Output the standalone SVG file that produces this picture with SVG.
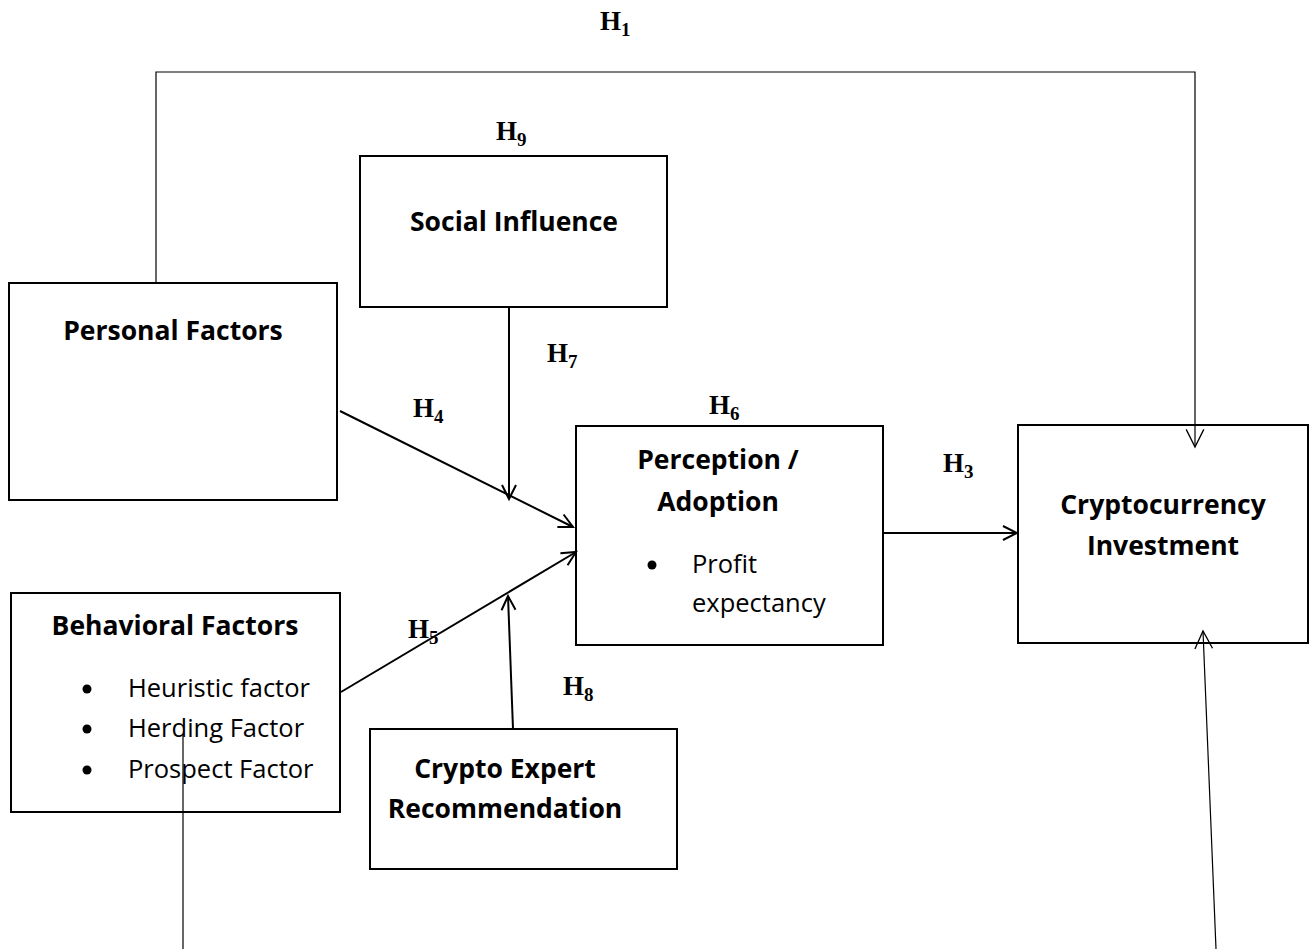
<svg xmlns="http://www.w3.org/2000/svg" width="1315" height="949" viewBox="0 0 1315 949">
<style>
.box{fill:none;stroke:#000;stroke-width:2}
.t{font-family:"Open Sans","Liberation Sans",sans-serif;font-weight:bold;font-size:26.5px;text-anchor:middle;fill:#000}
.r{font-family:"Open Sans","Liberation Sans",sans-serif;font-size:25.5px;fill:#000}
.h{font-family:"Liberation Serif","DejaVu Serif",serif;font-weight:bold;font-size:27px;fill:#000}
.hs{font-size:19px}
.c{fill:none;stroke:#000;stroke-width:2}
.c1{fill:none;stroke:#000;stroke-width:1.2}
</style>
<defs>
<marker id="a" markerWidth="20" markerHeight="20" refX="16" refY="8" orient="auto" markerUnits="userSpaceOnUse" viewBox="0 0 20 16">
<path d="M2,1 L16,8 L2,15" fill="none" stroke="#000" stroke-width="2"/>
</marker>
<marker id="a1" markerWidth="22" markerHeight="22" refX="18" refY="9" orient="auto" markerUnits="userSpaceOnUse" viewBox="0 0 20 18">
<path d="M2,1 L18,9 L2,17" fill="none" stroke="#000" stroke-width="1.2"/>
</marker>
</defs>
<g id="personal"><rect class="box" x="9" y="283" width="328" height="217"/><text class="t" x="173" y="340">Personal Factors</text></g>
<g id="social"><rect class="box" x="360" y="156" width="307" height="151"/><text class="t" x="514" y="231">Social Influence</text></g>
<g id="perception"><rect class="box" x="576" y="426" width="307" height="219"/>
<text class="t" x="718" y="469">Perception /</text><text class="t" x="718" y="511">Adoption</text>
<circle cx="652" cy="565" r="4.5"/>
<text class="r" x="692" y="573">Profit</text><text class="r" x="692" y="612">expectancy</text></g>
<g id="crypto"><rect class="box" x="1018" y="425" width="290" height="218"/>
<text class="t" x="1163" y="514">Cryptocurrency</text><text class="t" x="1163" y="555">Investment</text></g>
<g id="behavioral"><rect class="box" x="11" y="593" width="329" height="219"/>
<text class="t" x="175" y="635">Behavioral Factors</text>
<circle cx="87" cy="689" r="4.5"/><circle cx="87" cy="729" r="4.5"/><circle cx="87" cy="770" r="4.5"/>
<text class="r" x="128" y="697">Heuristic factor</text><text class="r" x="128" y="737">Herding Factor</text><text class="r" x="128" y="778">Prospect Factor</text></g>
<g id="expert"><rect class="box" x="370" y="729" width="307" height="140"/>
<text class="t" x="505" y="778">Crypto Expert</text><text class="t" x="505" y="818">Recommendation</text></g>
<g id="connectors">
<polyline class="c1" points="156,283 156,72 1195,72 1195,447" marker-end="url(#a1)"/>
<line class="c" x1="509" y1="307" x2="509" y2="499" marker-end="url(#a)"/>
<line class="c" x1="340" y1="411" x2="573" y2="527" marker-end="url(#a)"/>
<line class="c" x1="341" y1="692" x2="576" y2="552" marker-end="url(#a)"/>
<line class="c" x1="513" y1="729" x2="508" y2="596" marker-end="url(#a)"/>
<line class="c" x1="883" y1="533" x2="1017" y2="533" marker-end="url(#a)"/>
<line class="c1" x1="1216" y1="949" x2="1203" y2="631" marker-end="url(#a1)"/>
<line class="c1" x1="183" y1="735" x2="183" y2="949"/>
</g>
<g id="labels">
<text class="h" x="600" y="30">H<tspan class="hs" dy="6">1</tspan></text>
<text class="h" x="496" y="140">H<tspan class="hs" dy="6">9</tspan></text>
<text class="h" x="547" y="362">H<tspan class="hs" dy="6">7</tspan></text>
<text class="h" x="413" y="417">H<tspan class="hs" dy="6">4</tspan></text>
<text class="h" x="709" y="414">H<tspan class="hs" dy="6">6</tspan></text>
<text class="h" x="943" y="472">H<tspan class="hs" dy="6">3</tspan></text>
<text class="h" x="408" y="638">H<tspan class="hs" dy="6">5</tspan></text>
<text class="h" x="563" y="695">H<tspan class="hs" dy="6">8</tspan></text>
</g>
</svg>
